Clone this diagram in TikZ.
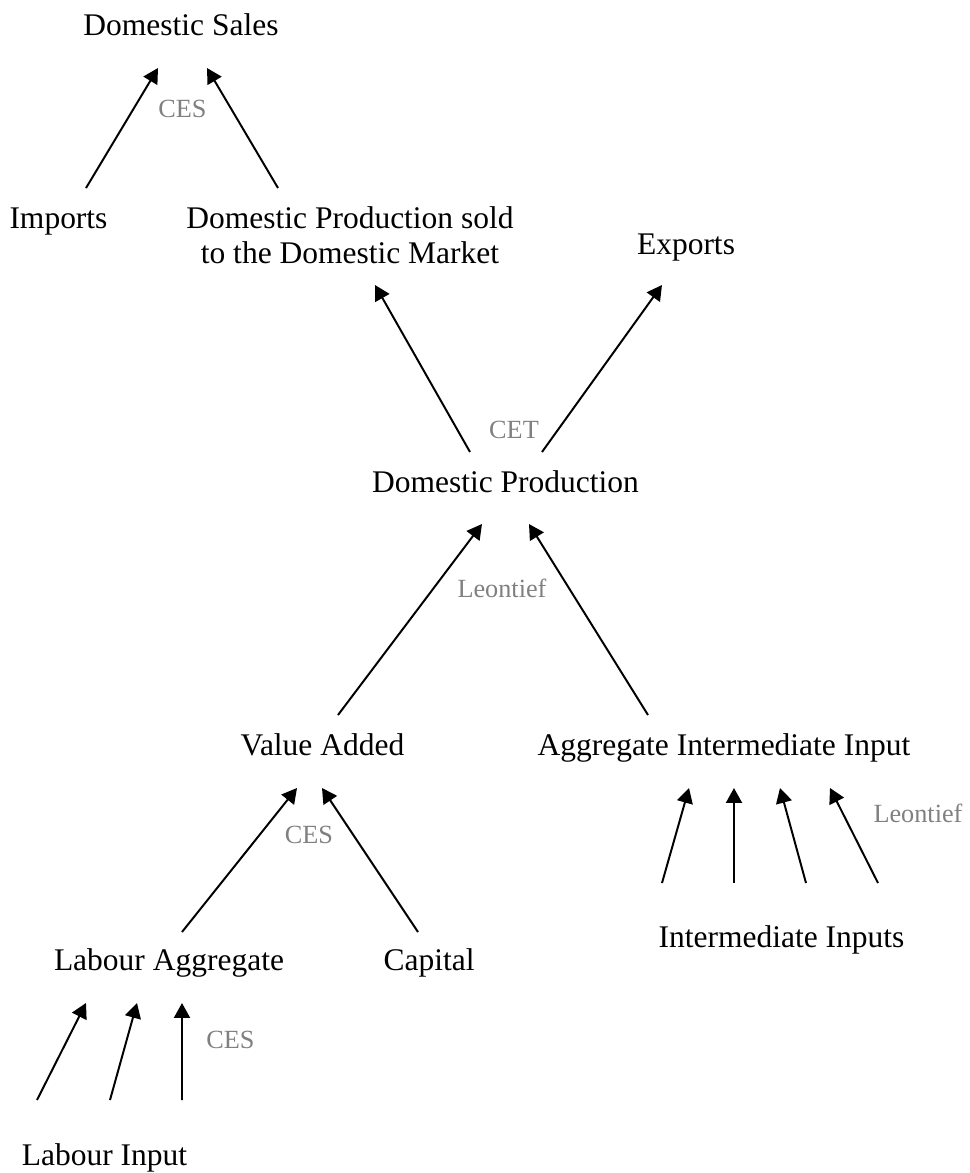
\documentclass[tikz,border=0pt]{standalone}
\usepackage{fontspec}
\setmainfont{Liberation Serif}
\usetikzlibrary{arrows.meta,calc}
\definecolor{labelgray}{RGB}{128,128,128}
\begin{document}
\begin{tikzpicture}[x=0.381pt,y=-0.381pt,
  box/.style={inner sep=0pt,anchor=base,font=\fontsize{12}{13.3}\selectfont,align=center},
  fn/.style={inner sep=0pt,anchor=base,font=\fontsize{10}{12}\selectfont,text=labelgray},
  arr/.style={-{Triangle[length=5.7pt,width=6.1pt]},line width=0.75pt,black}]
\useasboundingbox (0,0) rectangle (969,1173);
% nodes
\node[box] (dsales) at (181,35) {Domestic Sales};
\node[box] (imports) at (58.5,228) {Imports};
\node[box] (dpsold) at (350,263) {Domestic Production sold\\to the Domestic Market};
\node[box] (exports) at (686,254) {Exports};
\node[box] (dprod) at (505.5,492) {Domestic Production};
\node[box] (va) at (322.5,755) {Value Added};
\node[box] (aii) at (724,755) {Aggregate Intermediate Input};
\node[box] (labagg) at (169,970) {Labour Aggregate};
\node[box] (capital) at (429,970) {Capital};
\node[box] (intin) at (781.5,947) {Intermediate Inputs};
\node[box] (labin) at (104.5,1165) {Labour Input};
% function labels
\node[fn] (ces1) at (182.5,117) {CES};
\node[fn] (cet) at (514,438) {CET};
\node[fn] (leon1) at (502,597) {Leontief};
\node[fn] (ces2) at (309,843) {CES};
\node[fn] (leon2) at (918,822) {Leontief};
\node[fn] (ces3) at (230.5,1048) {CES};
% connectors
\draw[arr] ($(imports.base)+(27.5,-40)$) -- ($(dsales.base)+(-23,33)$);
\draw[arr] ($(dpsold.base)+(-72,-75)$) -- ($(dsales.base)+(26,33)$);
\draw[arr] ($(dprod.base)+(-35.5,-40)$) -- ($(dpsold.base)+(25,22)$);
\draw[arr] ($(dprod.base)+(36.5,-40)$) -- ($(exports.base)+(-24,31)$);
\draw[arr] ($(va.base)+(15.5,-40)$) -- ($(dprod.base)+(-23.5,32)$);
\draw[arr] ($(aii.base)+(-76,-40)$) -- ($(dprod.base)+(23.5,32)$);
\draw[arr] ($(labagg.base)+(13,-38)$) -- ($(va.base)+(-25.5,33)$);
\draw[arr] ($(capital.base)+(-11,-38)$) -- ($(va.base)+(-0.5,33)$);
\draw[arr] ($(intin.base)+(-119.5,-64)$) -- ($(aii.base)+(-35,33)$);
\draw[arr] ($(intin.base)+(-47.5,-64)$) -- ($(aii.base)+(10,33)$);
\draw[arr] ($(intin.base)+(24.5,-64)$) -- ($(aii.base)+(56,33)$);
\draw[arr] ($(intin.base)+(96.5,-64)$) -- ($(aii.base)+(106,33)$);
\draw[arr] ($(labin.base)+(-67.5,-65)$) -- ($(labagg.base)+(-83,33)$);
\draw[arr] ($(labin.base)+(5.5,-65)$) -- ($(labagg.base)+(-32,33)$);
\draw[arr] ($(labin.base)+(77.5,-65)$) -- ($(labagg.base)+(13,33)$);
\end{tikzpicture}
\end{document}
